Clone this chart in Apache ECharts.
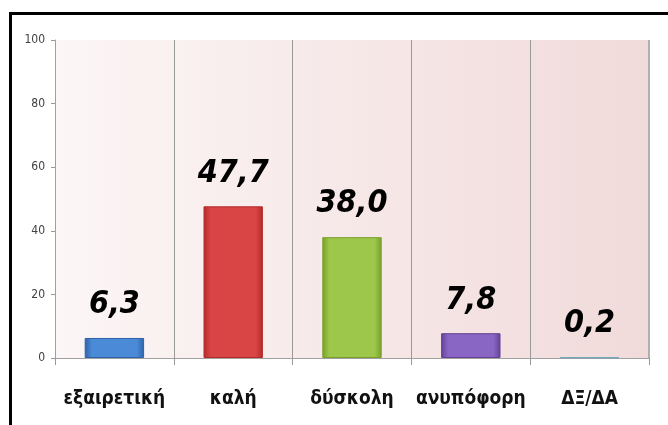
<!DOCTYPE html>
<html><head><meta charset="utf-8">
<script src="https://cdn.jsdelivr.net/npm/echarts@6/dist/echarts.min.js"></script>
<style>html,body{margin:0;padding:0;background:#fff}#c{width:668px;height:425px}</style>
</head><body><div id="c"></div>
<script>
const categories = ['εξαιρετική', 'καλή', 'δύσκολη', 'ανυπόφορη', 'ΔΞ/ΔΑ'];
const values = [6.3, 47.7, 38.0, 7.8, 0.2];
const valueLabels = ['6,3', '47,7', '38,0', '7,8', '0,2'];
const yTicks = [0, 20, 40, 60, 80, 100];
const barColors = [
  ['#2d62a8', '#4a8ad6'],
  ['#b22a2a', '#d94444'],
  ['#77a02a', '#9cc74a'],
  ['#634197', '#8a66c4'],
  ['#6fa7b8', '#8cc0cf']
];
const FONT = '"DejaVu Sans Condensed", "Liberation Sans", sans-serif';

function grad(c) {
  return new echarts.graphic.LinearGradient(0, 0, 1, 0, [
    {offset: 0, color: c[0]}, {offset: 0.12, color: c[1]},
    {offset: 0.88, color: c[1]}, {offset: 1, color: c[0]}
  ]);
}

const chart = echarts.init(document.getElementById('c'));
chart.setOption({
  animation: false,
  grid: {
    left: 55, right: 19, top: 40, bottom: 67, show: true, borderWidth: 0,
    backgroundColor: new echarts.graphic.LinearGradient(0, 0, 1, 0, [
      {offset: 0, color: '#fcf6f6'}, {offset: 1, color: '#f1dada'}
    ])
  },
  graphic: [{
    type: 'rect', left: 8, top: 11, shape: {x: 0, y: 0, width: 680, height: 430},
    style: {fill: 'none', stroke: '#000', lineWidth: 3}, z: 100
  }, {
    type: 'line', shape: {x1: 649, y1: 40, x2: 649, y2: 358},
    style: {stroke: '#b0b0b0', lineWidth: 2}, z: 5
  }],
  xAxis: {
    type: 'category', data: categories,
    axisLine: {lineStyle: {color: '#a0a0a0'}},
    axisTick: {show: true, interval: 0, length: 7, lineStyle: {color: '#999'}},
    splitLine: {show: true, interval: 0, lineStyle: {color: '#999', width: 1}},
    axisLabel: {
      interval: 0, color: '#111', fontSize: 19, fontWeight: 'bold',
      fontFamily: FONT, margin: 32
    }
  },
  yAxis: {
    type: 'value', min: 0, max: 100, interval: 20,
    axisLine: {show: true, lineStyle: {color: '#a0a0a0'}},
    axisTick: {show: true, length: 4, lineStyle: {color: '#999'}},
    splitLine: {show: false},
    axisLabel: {
      color: '#404040', fontSize: 12, fontFamily: FONT, margin: 10,
      formatter: v => yTicks.includes(v) ? String(v) : ''
    }
  },
  series: [{
    type: 'bar', barWidth: '50%',
    data: values.map((v, i) => ({
      value: v,
      itemStyle: {color: grad(barColors[i]), borderColor: barColors[i][0], borderWidth: 1}
    })),
    label: {
      show: true, position: 'top', distance: 17,
      formatter: p => valueLabels[p.dataIndex],
      fontFamily: FONT, fontWeight: 'bold', fontStyle: 'italic',
      fontSize: 32, color: '#000'
    }
  }]
});
</script></body></html>
